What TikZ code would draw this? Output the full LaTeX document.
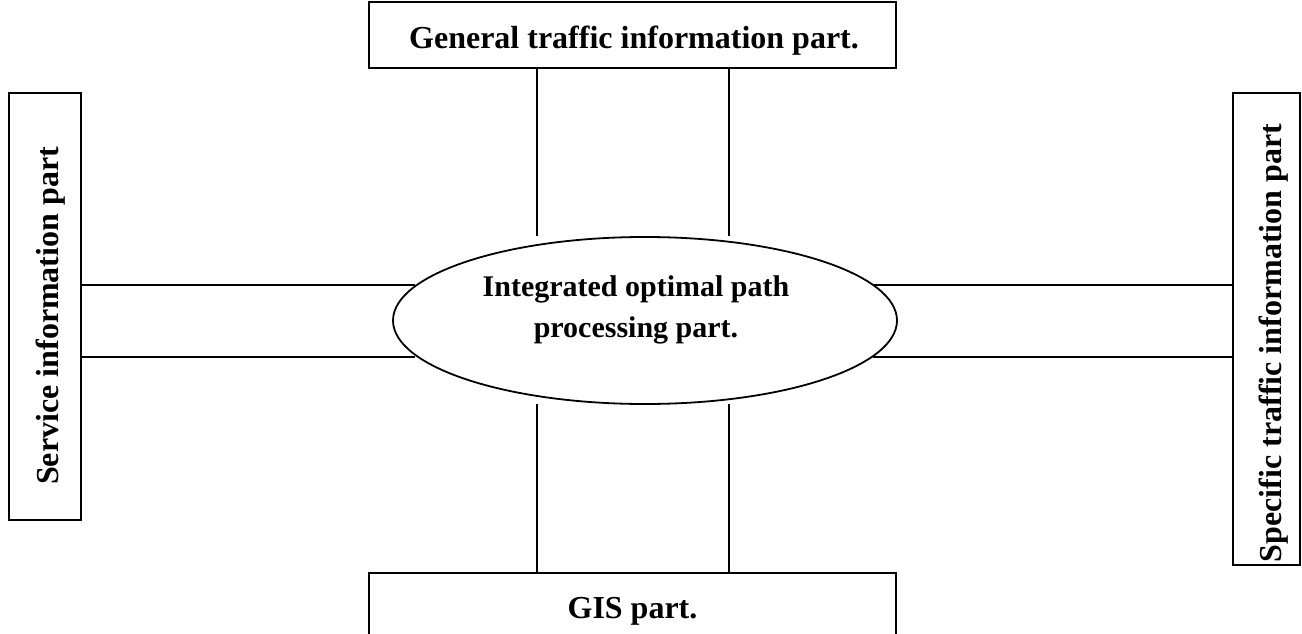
\documentclass[tikz,border=0pt]{standalone}
\usepackage{fontspec}
\setmainfont{Liberation Serif}
\usetikzlibrary{shapes.geometric}
\begin{document}
\begin{tikzpicture}[x=1pt,y=-1pt,
  box/.style={draw,line width=2.6pt,inner sep=0pt},
  label/.style={inner sep=0pt,font=\fontsize{32}{38}\selectfont\bfseries},
  link/.style={line width=2pt},
  oval/.style={draw,ellipse,line width=1.8pt,inner sep=0pt,minimum width=504pt,minimum height=167pt}]
\clip (0,0) rectangle (1302,634);
\fill[white] (0,0) rectangle (1302,634);
\node[box,minimum width=527pt,minimum height=66pt] (gen) at (632.5,35) {};
\node[label,anchor=base] (gent) at (634,49) {General traffic information part.};
\node[box,minimum width=72pt,minimum height=427pt] (svc) at (45,306.5) {};
\node[label,rotate=90,anchor=base] (svct) at (58,316) {Service information part};
\node[box,minimum width=67pt,minimum height=472pt] (spc) at (1266.5,329) {};
\node[label,rotate=90,anchor=base] (spct) at (1281,343) {Specific traffic information part};
\node[box,minimum width=527pt,minimum height=66pt] (gis) at (632.5,606) {};
\node[label,anchor=base] (gist) at (632.5,618) {GIS part.};
\node[oval] (core) at (645,320.5) {};
\node[align=center,inner sep=0pt,font=\fontsize{30}{41}\selectfont\bfseries] (coret) at (636,310) {Integrated optimal path\\processing part.};
\coordinate (t1) at (537,236);
\coordinate (t2) at (729,236);
\coordinate (b1) at (537,404);
\coordinate (b2) at (729,404);
\coordinate (l1) at (415,285);
\coordinate (l2) at (415,356.5);
\coordinate (r1) at (873,285);
\coordinate (r2) at (873,356.5);
\draw[link] (t1 |- gen.south) -- (t1);
\draw[link] (t2 |- gen.south) -- (t2);
\draw[link] (b1) -- (b1 |- gis.north);
\draw[link] (b2) -- (b2 |- gis.north);
\draw[link] (svc.east |- l1) -- (l1);
\draw[link] (svc.east |- l2) -- (l2);
\draw[link] (r1) -- (r1 -| spc.west);
\draw[link] (r2) -- (r2 -| spc.west);
\end{tikzpicture}
\end{document}
